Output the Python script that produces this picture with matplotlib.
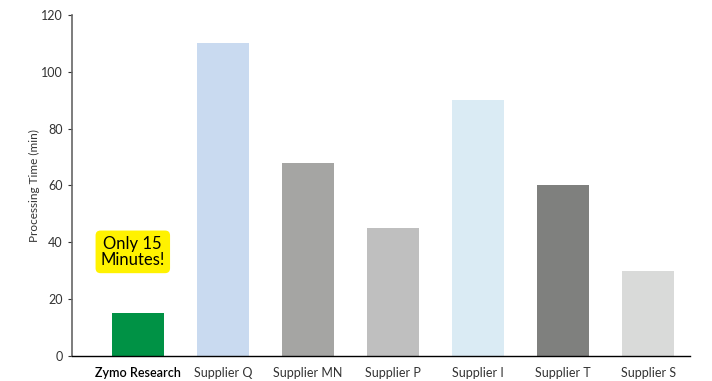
import matplotlib
matplotlib.use("Agg")
import matplotlib.pyplot as plt

categories = ["Zymo Research", "Supplier Q", "Supplier MN", "Supplier P",
              "Supplier I", "Supplier T", "Supplier S"]
times = [15, 110, 68, 45, 90, 60, 30]
colors = ["#009245", "#c9daf0", "#a5a5a3", "#bfbfbf", "#daebf4", "#7f807e", "#d9dad9"]

plt.rcParams["font.family"] = ["Lato", "DejaVu Sans"]

fig = plt.figure(figsize=(7.12, 3.81), dpi=100)
ax = fig.add_axes([0.101, 0.066, 0.868, 0.895])

x = range(len(categories))
ax.bar(x, times, width=0.61, color=colors)

ax.set_xlim(-0.776, 6.49)
ax.set_ylim(0, 120)
ax.set_yticks(range(0, 121, 20))
ax.set_xticks(list(x))
ax.set_xticklabels(categories, fontsize=9, color="#333333")
ax.get_xticklabels()[0].set_color("black")
ax.get_xticklabels()[0].set_fontweight("semibold")
ax.tick_params(axis="x", length=0, pad=8)
ax.tick_params(axis="y", labelsize=9, colors="#333333", length=3, direction="out")
ax.set_ylabel("Processing Time (min)", fontsize=8.5, color="#333333", labelpad=1)

for side in ("top", "right"):
    ax.spines[side].set_visible(False)
ax.spines["left"].set_color("#666666")
ax.spines["left"].set_linewidth(1.2)
ax.spines["bottom"].set_color("black")
ax.spines["bottom"].set_linewidth(1.0)

ax.text(-0.06, 36.6, "Only 15\nMinutes!", ha="center", va="center", fontsize=12,
        linespacing=1.05,
        bbox=dict(boxstyle="round,pad=0.3,rounding_size=0.3", fc="#fff200", ec="none"))

fig.savefig("out.png", dpi=100)
